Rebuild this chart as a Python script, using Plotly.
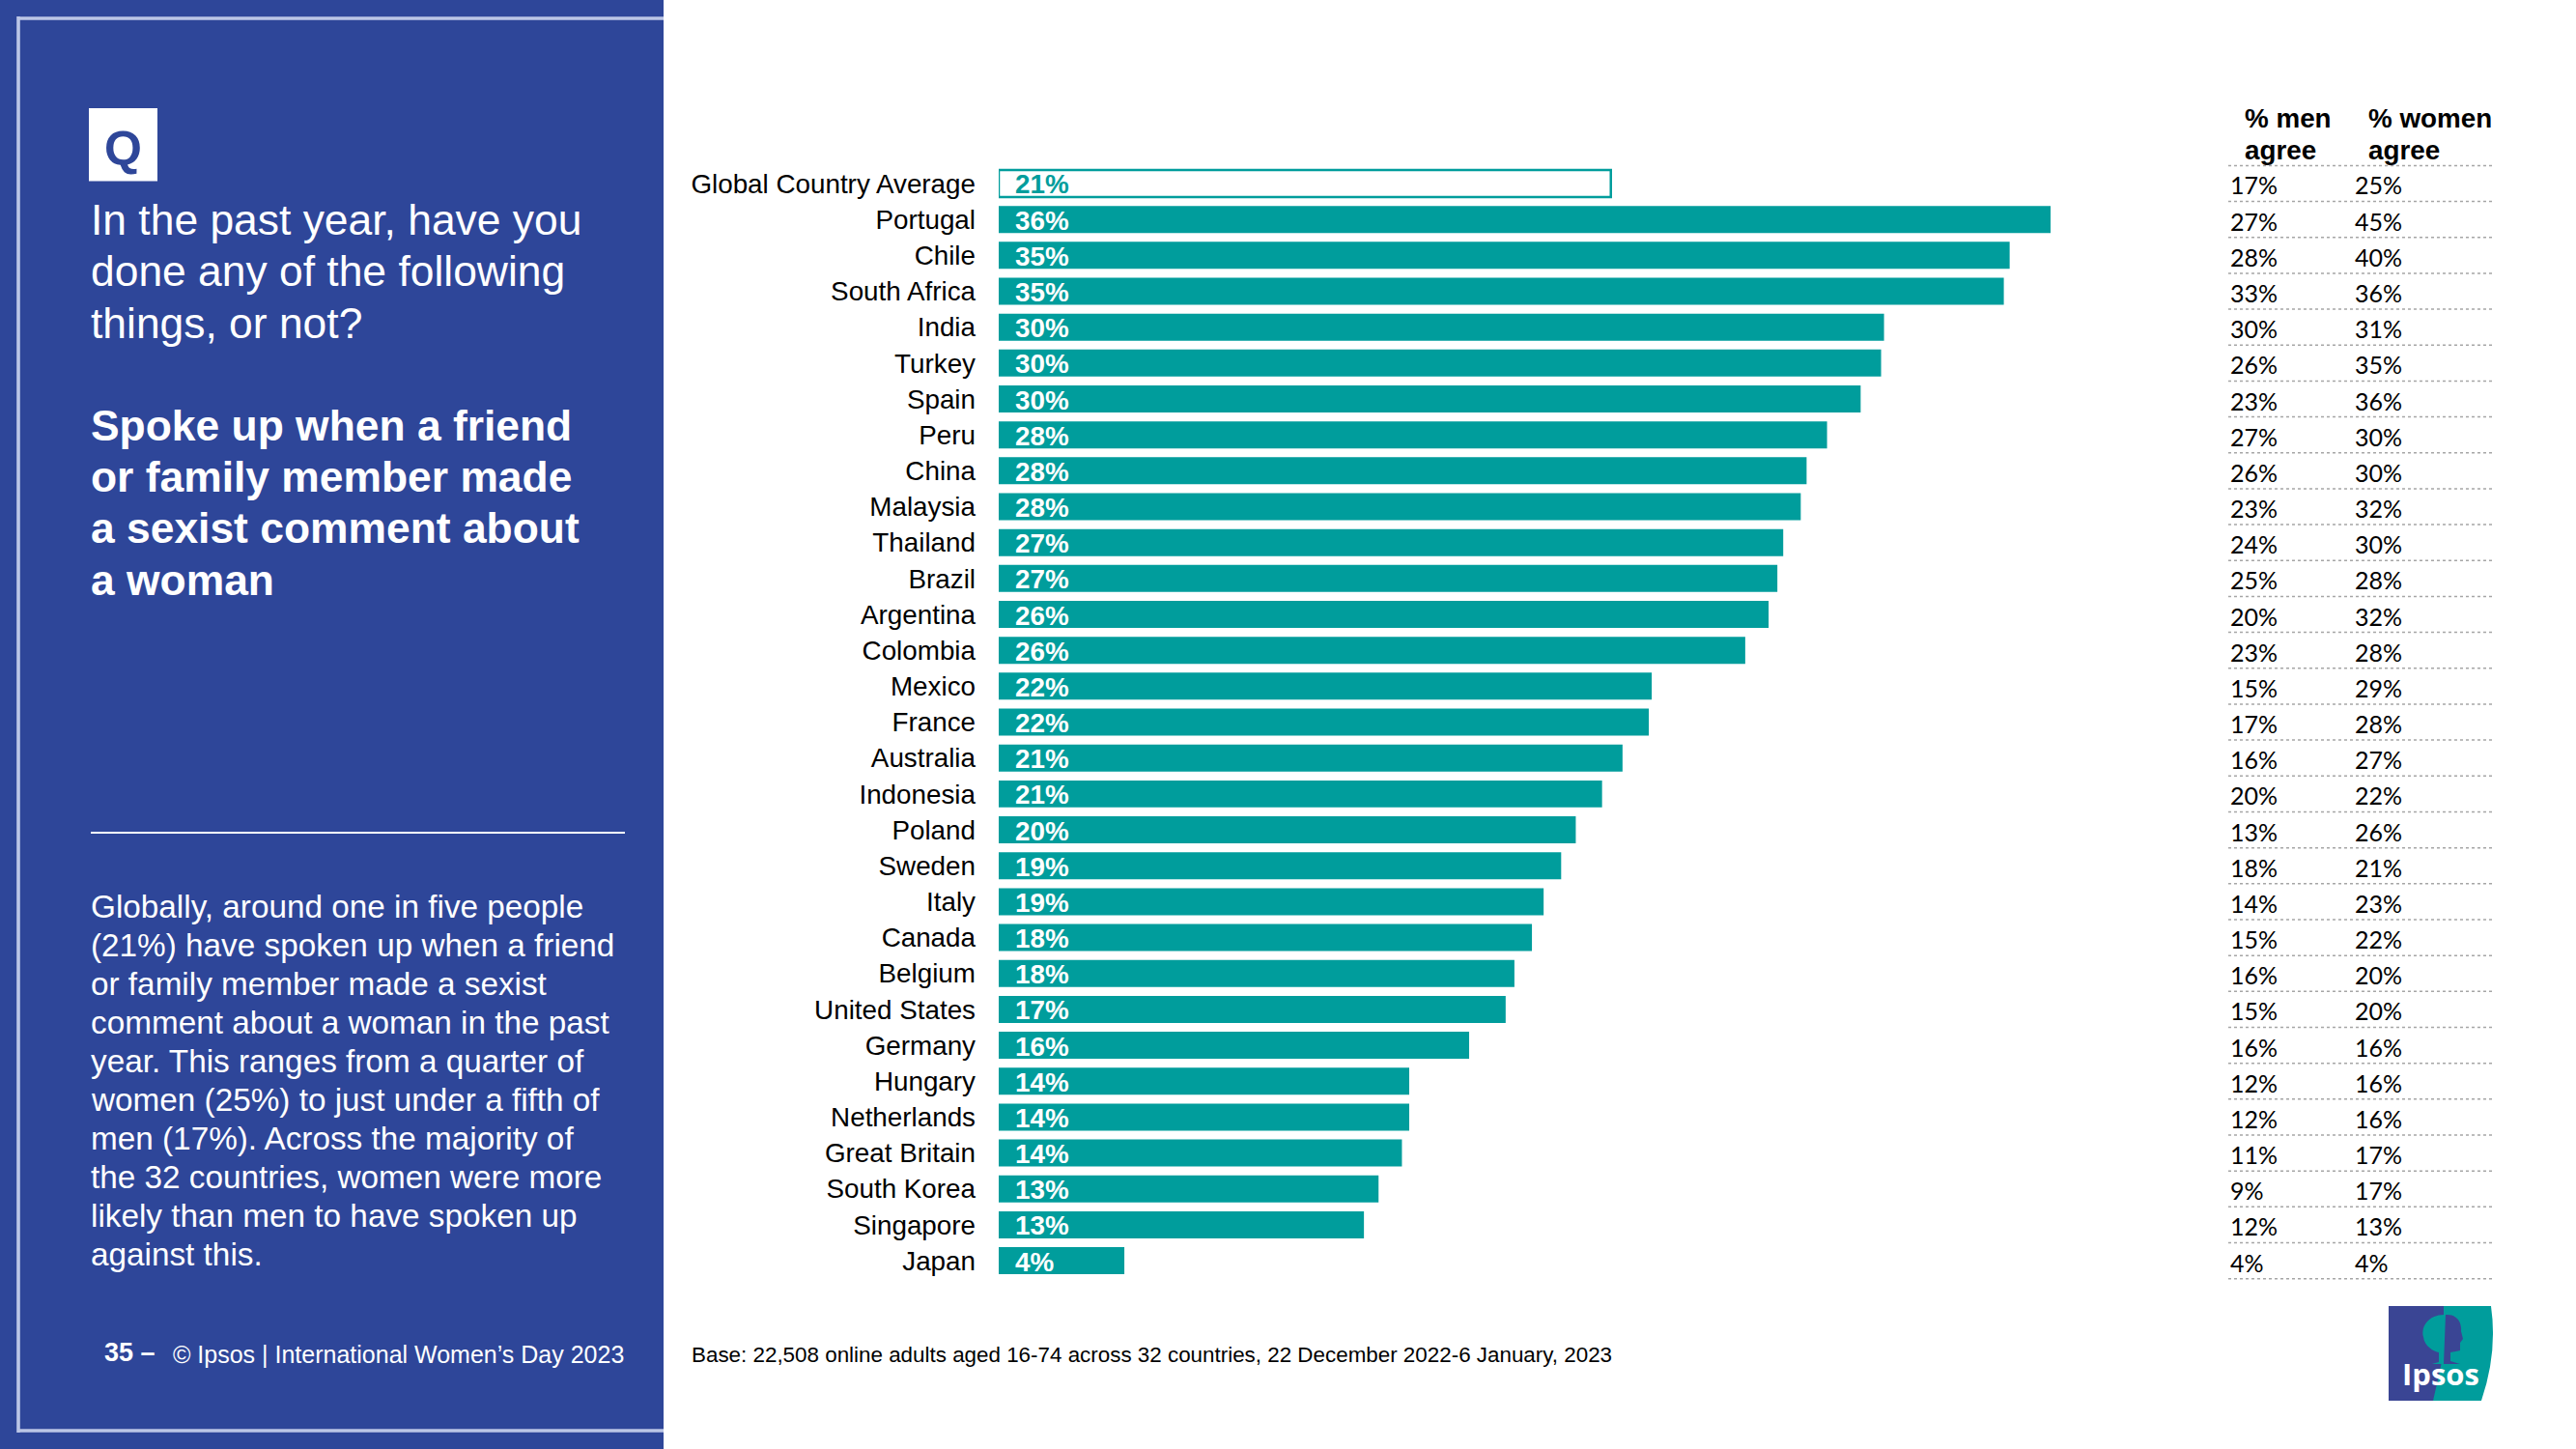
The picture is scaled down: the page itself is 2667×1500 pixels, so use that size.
import plotly.graph_objects as go

W, H = 2667, 1500
categories = ["Global Country Average", "Portugal", "Chile", "South Africa", "India", "Turkey", "Spain", "Peru", "China",
              "Malaysia", "Thailand", "Brazil", "Argentina", "Colombia", "Mexico", "France", "Australia", "Indonesia",
              "Poland", "Sweden", "Italy", "Canada", "Belgium", "United States", "Germany", "Hungary", "Netherlands",
              "Great Britain", "South Korea", "Singapore", "Japan"]
values = [20.95, 36.0, 34.6, 34.4, 30.3, 30.2, 29.5, 28.35, 27.65, 27.45, 26.85, 26.65, 26.35, 25.55, 22.35, 22.25, 21.35,
          20.65, 19.75, 19.25, 18.65, 18.25, 17.65, 17.35, 16.1, 14.05, 14.05, 13.8, 13.0, 12.5, 4.3]
labels = ["21%", "36%", "35%", "35%", "30%", "30%", "30%", "28%", "28%", "28%", "27%", "27%", "26%", "26%", "22%", "22%",
          "21%", "21%", "20%", "19%", "19%", "18%", "18%", "17%", "16%", "14%", "14%", "14%", "13%", "13%", "4%"]
men = ["17%", "27%", "28%", "33%", "30%", "26%", "23%", "27%", "26%", "23%", "24%", "25%", "20%", "23%", "15%", "17%",
       "16%", "20%", "13%", "18%", "14%", "15%", "16%", "15%", "16%", "12%", "12%", "11%", "9%", "12%", "4%"]
women = ["25%", "45%", "40%", "36%", "31%", "35%", "36%", "30%", "30%", "32%", "30%", "28%", "32%", "28%", "29%", "28%",
         "27%", "22%", "26%", "21%", "23%", "22%", "20%", "20%", "16%", "16%", "16%", "17%", "17%", "13%", "4%"]
question = ["In the past year, have you", "done any of the following", "things, or not?"]
statement = ["Spoke up when a friend", "or family member made", "a sexist comment about", "a woman"]
body = ["Globally, around one in five people", "(21%) have spoken up when a friend", "or family member made a sexist",
        "comment about a woman in the past", "year. This ranges from a quarter of", "women (25%) to just under a fifth of",
        "men (17%). Across the majority of", "the 32 countries, women were more", "likely than men to have spoken up",
        "against this."]

BLUE, TEAL, RULE = "#2E4699", "#009D9C", "#A6A6A6"
LOGO_BLUE = "#3A4594"
SANS = "Liberation Sans"
X0, PX_PER_UNIT, ROW, TOP = 1034, 30.25, 37.17, 171.4
XMAX = 50


def px(x):
    return x / W


def py(y):
    return 1 - y / H


shapes, notes = [], []


def rect(x0, y0, x1, y1, fill=None):
    shapes.append(dict(type="rect", xref="paper", yref="paper", x0=px(x0), x1=px(x1), y0=py(y1), y1=py(y0),
                       fillcolor=fill, line=dict(width=0), layer="below"))


def hline(x0, x1, y, color, lw, dash="solid"):
    shapes.append(dict(type="line", xref="paper", yref="paper", x0=px(x0), x1=px(x1), y0=py(y), y1=py(y),
                       line=dict(color=color, width=lw, dash=dash), layer="below"))


def path(points, fill):
    parts = []
    for cmd, *xy in points:
        coords = " ".join(f"{px(xy[i]):.5f},{py(xy[i + 1]):.5f}" for i in range(0, len(xy), 2))
        parts.append(cmd + coords)
    shapes.append(dict(type="path", xref="paper", yref="paper", path=" ".join(parts) + " Z", fillcolor=fill,
                       line=dict(width=0), layer="below"))


def note(text, x, base, size, color="#FFFFFF", bold=False, anchor="left", family=SANS):
    notes.append(dict(text=f"<b>{text}</b>" if bold else text, xref="paper", yref="paper", x=px(x),
                      y=py(base - 0.3465 * size), xanchor=anchor, yanchor="middle", showarrow=False, borderpad=0,
                      font=dict(family=family, size=size, color=color)))


# left panel
rect(0, 0, 687, H, fill=BLUE)
hline(19, 687, 19, "#BCC6E6", 3.6)
hline(19, 687, 1481, "#BCC6E6", 3.6)
shapes.append(dict(type="line", xref="paper", yref="paper", x0=px(19), x1=px(19), y0=py(17), y1=py(1483),
                   line=dict(color="#BCC6E6", width=3.6), layer="below"))
rect(92, 112, 163, 187.5, fill="#FFFFFF")
note("Q", 127.5, 171, 50, color=BLUE, bold=True, anchor="center")
for i, t in enumerate(question):
    note(t, 93, 243 + i * 53.3, 44.4)
for i, t in enumerate(statement):
    note(t, 93, 455.5 + i * 53.3, 44.4, bold=True)
hline(94, 647, 862, "#FFFFFF", 2)
for i, t in enumerate(body):
    note(t, 93, 950 + i * 40, 33.3)
note("35 –", 107, 1409, 27, bold=True)
note("© Ipsos | International Women’s Day 2023", 647, 1411, 25, anchor="right")
note("Base: 22,508 online adults aged 16-74 across 32 countries, 22 December 2022-6 January, 2023", 715, 1410, 22.4,
     color="#000000")

# table
for x, a, b in [(2323, "% men", "agree"), (2451, "% women", "agree")]:
    note(a, x, 132, 27.8, color="#000000", bold=True)
    note(b, x, 165, 27.8, color="#000000", bold=True)
for i in range(len(categories) + 1):
    hline(2307, 2581, TOP + i * ROW, RULE, 1.5, "dot")
for i, (m, w) in enumerate(zip(men, women)):
    for x, t in [(2307, m), (2436, w)]:
        notes.append(dict(text=t, xref="paper", yref="y", x=px(x), y=categories[i], yshift=-1.5, xanchor="left",
                          yanchor="middle", showarrow=False, font=dict(family="Lato", size=25, color="#000000")))

# bar value labels
for i, t in enumerate(labels):
    notes.append(dict(text=f"<b>{t}</b>", xref="x", yref="y", x=0, y=categories[i], xshift=16, yshift=-1,
                      xanchor="left", yanchor="middle", showarrow=False, borderpad=0,
                      font=dict(family=SANS, size=27.8, color=TEAL if i == 0 else "#FFFFFF")))

# logo
rect(2473, 1352, 2531, 1450, fill=LOGO_BLUE)
path([("M", 2529, 1352), ("L", 2579, 1352), ("Q", 2586, 1400, 2569, 1450), ("L", 2519, 1450),
      ("Q", 2526, 1420, 2530, 1400), ("L", 2530, 1352)], TEAL)
path([("M", 2532, 1361), ("C", 2516, 1360, 2506, 1372, 2509, 1384), ("C", 2510, 1394, 2520, 1399, 2525, 1400),
      ("L", 2525, 1410), ("L", 2518, 1412), ("L", 2532, 1412)], TEAL)
path([("M", 2532, 1361), ("C", 2542, 1360, 2549, 1367, 2548, 1378), ("L", 2550, 1386), ("L", 2547, 1390),
      ("L", 2547, 1398), ("L", 2537, 1400), ("L", 2537, 1409), ("L", 2547, 1412), ("L", 2530, 1412)], LOGO_BLUE)
note("Ipsos", 2486, 1433, 31, bold=True, family="Open Sans")

y_bottom = TOP + ROW * len(categories)
fig = go.Figure()
fig.add_bar(y=categories, x=values, orientation="h", width=0.753,
            marker=dict(color=["#FFFFFF"] + [TEAL] * (len(categories) - 1),
                        line=dict(color=TEAL, width=[2.5] + [0] * (len(categories) - 1))),
            hoverinfo="skip", showlegend=False)
fig.update_layout(
    width=W, height=H, margin=dict(l=0, r=0, t=0, b=0), paper_bgcolor="#FFFFFF", plot_bgcolor="rgba(0,0,0,0)",
    shapes=shapes, annotations=notes, font=dict(family=SANS),
    xaxis=dict(domain=[px(X0), px(X0 + PX_PER_UNIT * XMAX)], range=[0, XMAX], visible=False, fixedrange=True),
    yaxis=dict(domain=[py(y_bottom), py(TOP)], type="category", categoryorder="array", categoryarray=categories,
               range=[len(categories) - 0.5, -0.5], showgrid=False, zeroline=False, showline=False, ticks="",
               ticklabelstandoff=23, automargin=False, tickfont=dict(family=SANS, size=27.8, color="#000000")),
)
fig.write_html("out.html", post_script="document.body.style.margin='0';", config={"displayModeBar": False})
